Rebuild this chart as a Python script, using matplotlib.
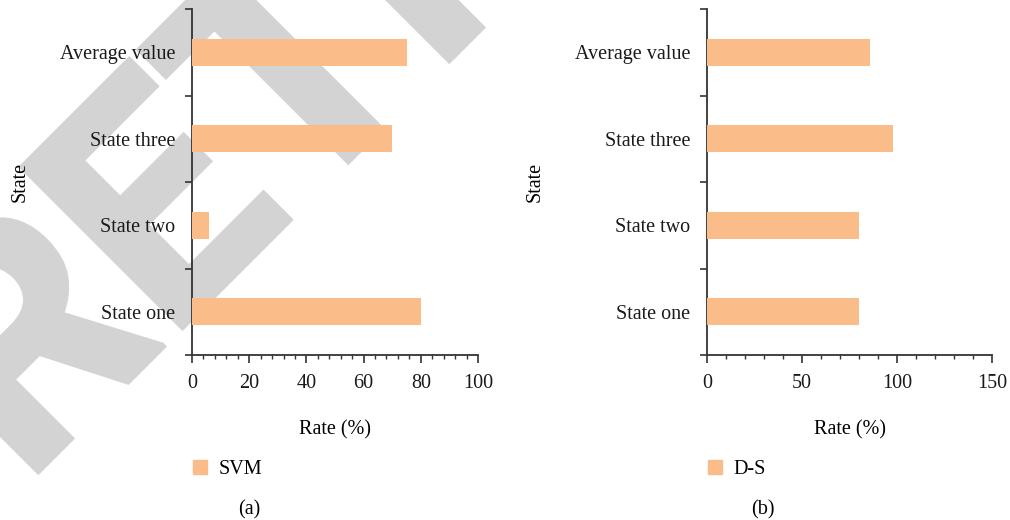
import matplotlib
matplotlib.use('Agg')
import matplotlib.pyplot as plt
import matplotlib.patheffects as pe
from matplotlib.ticker import MultipleLocator, FixedLocator, NullFormatter

states = ['State one', 'State two', 'State three', 'Average value']
svm_rate = [80, 6, 70, 75]
ds_rate = [80, 80, 98, 86]

bar_color = '#FABC88'
axis_color = '#333333'
mark_color = '#D3D3D3'
plt.rcParams['font.family'] = ['Liberation Serif', 'DejaVu Serif']
plt.rcParams['font.size'] = 14.5

fig = plt.figure(figsize=(10.1, 5.2), dpi=100)

# watermark behind the left panel
fig.text(24 / 1010, 34 / 520, 'RETRACTED', rotation=45, rotation_mode='anchor',
         ha='left', va='baseline', fontsize=230, color=mark_color,
         family=['Roboto', 'DejaVu Sans'], weight='bold', zorder=-5,
         path_effects=[pe.withStroke(linewidth=3.6, foreground=mark_color,
                                     joinstyle='miter')])


def draw_panel(rect, values, xmax, major, minor, legend_label, caption, cap_x):
    ax = fig.add_axes(rect)
    ax.patch.set_visible(False)
    ax.barh(range(len(states)), values, height=0.31, color=bar_color, zorder=3)
    ax.set_xlim(0, xmax)
    ax.set_ylim(-0.5, len(states) - 0.5)

    for s in ['top', 'right']:
        ax.spines[s].set_visible(False)
    for s in ['left', 'bottom']:
        ax.spines[s].set_color(axis_color)
        ax.spines[s].set_linewidth(1.3)

    ax.xaxis.set_major_locator(MultipleLocator(major))
    ax.xaxis.set_minor_locator(MultipleLocator(minor))
    ax.tick_params(axis='x', which='major', length=6, width=1.2, color=axis_color, pad=8)
    ax.tick_params(axis='x', which='minor', length=3.2, width=1.0, color=axis_color)

    # ticks sit between categories, labels at band centres
    ax.yaxis.set_major_locator(FixedLocator([i - 0.5 for i in range(len(states) + 1)]))
    ax.yaxis.set_major_formatter(NullFormatter())
    ax.yaxis.set_minor_locator(FixedLocator(range(len(states))))
    ax.set_yticklabels(states, minor=True)
    ax.tick_params(axis='y', which='major', length=5, width=1.2, color=axis_color)
    ax.tick_params(axis='y', which='minor', length=0, pad=12)
    ax.tick_params(which='both', labelcolor='#1a1a1a')

    ax.set_xlabel('Rate (%)', labelpad=19)
    ax.set_ylabel('State', labelpad=22)

    ax.legend([plt.Rectangle((0, 0), 1, 1, color=bar_color)], [legend_label],
              loc='upper left', bbox_to_anchor=(rect[0] - 0.017, 0.15),
              bbox_transform=fig.transFigure, frameon=False,
              handlelength=0.7, handleheight=0.7, handletextpad=0.55)
    fig.text(cap_x, 0.02, caption, ha='center', va='center')
    return ax


ax1 = draw_panel([192 / 1010, 165 / 520, 286 / 1010, 346 / 520], svm_rate, 100, 20, 4,
                 'SVM', '(a)', 249 / 1010)
ax2 = draw_panel([707 / 1010, 165 / 520, 285 / 1010, 346 / 520], ds_rate, 150, 50, 10,
                 'D-S', '(b)', 763 / 1010)

fig.savefig('out.png', dpi=100)
